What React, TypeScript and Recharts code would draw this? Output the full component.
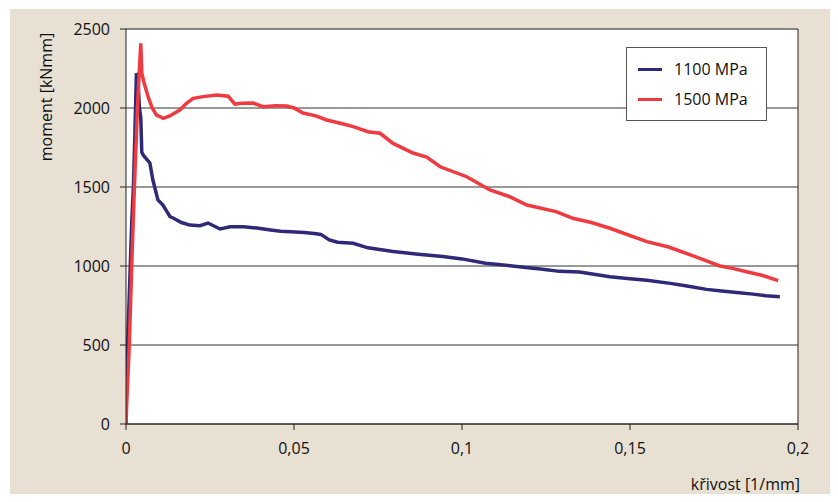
import { LineChart, Line, XAxis, YAxis, CartesianGrid, ReferenceLine } from 'recharts';

// křivost [1/mm] and moment [kNmm]
const curv1100 = [
  0, 0.0002, 0.0008, 0.0017, 0.0022, 0.0026, 0.0031, 0.0035, 0.004, 0.0044, 0.0047, 0.0052, 0.006, 0.0071,
  0.008, 0.0095, 0.011, 0.0131, 0.014, 0.0165, 0.019, 0.022, 0.0244, 0.028, 0.031, 0.035, 0.039, 0.043,
  0.046, 0.049, 0.053, 0.056, 0.058, 0.0605, 0.063, 0.0676, 0.072, 0.0795, 0.087, 0.0943, 0.1, 0.107,
  0.113, 0.119, 0.124, 0.129, 0.135, 0.144, 0.15, 0.155, 0.162, 0.1665, 0.1728, 0.178, 0.1825, 0.1866,
  0.1905, 0.1946,
];
const moment1100 = [
  0, 342, 700, 1272, 1502, 1797, 2220, 2200, 2000, 1940, 1720, 1700, 1680, 1652, 1544, 1418, 1386, 1312,
  1304, 1275, 1259, 1255, 1272, 1234, 1248, 1249, 1240, 1228, 1220, 1217, 1212, 1205, 1200, 1165, 1150,
  1144, 1115, 1092, 1075, 1060, 1045, 1018, 1005, 990, 980, 966, 962, 932, 920, 910, 890, 875, 852, 840,
  830, 822, 812, 806,
];

const curv1500 = [
  0, 0.0002, 0.001, 0.0017, 0.0025, 0.0034, 0.004, 0.0044, 0.0047, 0.0055, 0.0066, 0.0078, 0.0091, 0.0111,
  0.013, 0.016, 0.018, 0.02, 0.023, 0.027, 0.0304, 0.0324, 0.0345, 0.0378, 0.0408, 0.0445, 0.0478, 0.05,
  0.0527, 0.0565, 0.0597, 0.0635, 0.0676, 0.072, 0.0756, 0.0795, 0.0854, 0.0895, 0.0935, 0.1014, 0.1083,
  0.114, 0.1193, 0.128, 0.133, 0.1385, 0.144, 0.155, 0.1615, 0.168, 0.1768, 0.1805, 0.1847, 0.1895, 0.1941,
];
const moment1500 = [
  0, 120, 510, 1000, 1500, 2000, 2250, 2410, 2220, 2150, 2070, 2000, 1955, 1935, 1950, 1987, 2030, 2061,
  2072, 2082, 2075, 2025, 2030, 2031, 2008, 2015, 2013, 2000, 1968, 1950, 1924, 1905, 1882, 1850, 1840,
  1776, 1715, 1690, 1628, 1565, 1481, 1440, 1386, 1344, 1302, 1275, 1239, 1154, 1120, 1070, 1000, 985,
  964, 940, 907,
];

const xTicks = [0, 0.05, 0.1, 0.15, 0.2];
const yTicks = [0, 500, 1000, 1500, 2000, 2500];

const series = [
  { name: '1100 MPa', color: '#2e2a78', data: curv1100.map((k, i) => ({ k, m: moment1100[i] })) },
  { name: '1500 MPa', color: '#ef3a40', data: curv1500.map((k, i) => ({ k, m: moment1500[i] })) },
];

const font = '"Open Sans", sans-serif';

export default function App() {
  return (
    <div style={{ position: 'relative', width: 838, height: 502, margin: -8, fontFamily: font }}>
      <div style={{ position: 'absolute', left: 10, top: 9, width: 828, height: 493, background: '#e8e0d3' }} />
      <div style={{ position: 'absolute', left: 0, top: 0 }}>
        <LineChart width={838} height={502} margin={{ top: 29, right: 40, left: 66, bottom: 14 }}>
          <CartesianGrid vertical={false} stroke="#333" fill="#fff" fillOpacity={1} />
          <XAxis
            type="number"
            dataKey="k"
            domain={[0, 0.2]}
            ticks={xTicks}
            allowDataOverflow
            height={64}
            tickSize={6}
            tickMargin={13}
            tickFormatter={(v: number) => String(v).replace('.', ',')}
            tick={{ fill: '#111', fontSize: 16, fontFamily: font }}
            axisLine={{ stroke: '#222' }}
            tickLine={{ stroke: '#222' }}
            label={{
              value: 'křivost [1/mm]',
              position: 'insideBottomRight',
              offset: -2,
              fill: '#111',
              fontSize: 16,
              fontFamily: font,
            }}
          />
          <YAxis
            type="number"
            domain={[0, 2500]}
            ticks={yTicks}
            width={60}
            tickSize={6}
            tickMargin={10}
            tick={{ fill: '#111', fontSize: 16, fontFamily: font }}
            axisLine={{ stroke: '#222' }}
            tickLine={{ stroke: '#222' }}
          />
          <ReferenceLine y={2500} stroke="#777" />
          <ReferenceLine x={0.2} stroke="#222" />
          {series.map((s) => (
            <Line
              key={s.name}
              data={s.data}
              dataKey="m"
              name={s.name}
              type="linear"
              stroke={s.color}
              strokeWidth={3.5}
              dot={false}
              isAnimationActive={false}
            />
          ))}
        </LineChart>
      </div>
      {/* y axis title, reading upwards in the top-left corner */}
      <div
        style={{
          position: 'absolute',
          left: -24,
          top: 87,
          width: 140,
          height: 20,
          lineHeight: '20px',
          textAlign: 'center',
          fontSize: 16,
          color: '#111',
          transform: 'rotate(-90deg)',
          whiteSpace: 'nowrap',
        }}
      >
        moment [kNmm]
      </div>
      <div
        style={{
          position: 'absolute',
          left: 626,
          top: 47,
          width: 141,
          height: 74,
          boxSizing: 'border-box',
          border: '1px solid #555',
          background: '#fff',
          padding: '6px 0 0 11px',
        }}
      >
        {series.map((s) => (
          <div key={s.name} style={{ display: 'flex', alignItems: 'center', height: 30 }}>
            <div style={{ width: 24, height: 3, background: s.color, marginRight: 12 }} />
            <span style={{ fontSize: 16, color: '#111' }}>{s.name}</span>
          </div>
        ))}
      </div>
    </div>
  );
}
